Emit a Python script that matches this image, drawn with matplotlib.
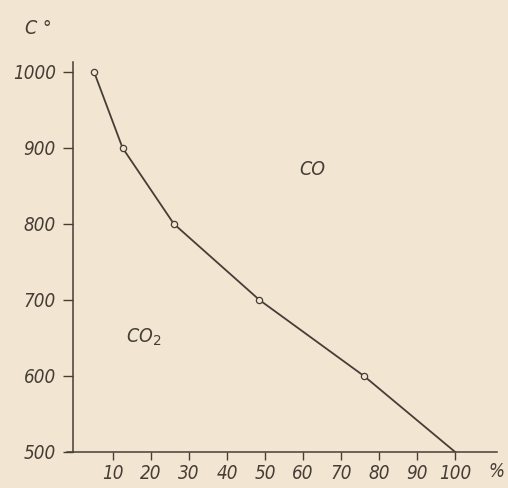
import matplotlib.pyplot as plt

# equilibrium curve
temps = [1000, 900, 800, 700, 600, 500]
percent = [5, 12.5, 26, 48.5, 76, 100]
n_marked = 5  # last point (100 %, 500 C) has no circle

y_ticks = [500, 600, 700, 800, 900, 1000]
x_ticks = [10, 20, 30, 40, 50, 60, 70, 80, 90, 100]

BG = "#f2e6d2"
INK = "#463d36"
FONT = dict(family="DejaVu Sans", style="italic", stretch="condensed", color=INK)


def main():
    fig = plt.figure(figsize=(5.08, 4.88), dpi=100, facecolor=BG)
    ax = fig.add_axes([0.132, 0.074, 0.846, 0.799], facecolor=BG)

    ax.plot(percent, temps, color=INK, linewidth=1.3, zorder=2)
    ax.plot(percent[:n_marked], temps[:n_marked], linestyle="none", marker="o",
            markersize=4.5, markerfacecolor=BG, markeredgecolor=INK,
            markeredgewidth=0.9, zorder=3)

    ax.set_xlim(-2.1, 111)
    ax.set_ylim(500, 1013)

    for s in ("top", "right"):
        ax.spines[s].set_visible(False)
    ax.spines["left"].set_position(("data", -0.5))
    for s in ("left", "bottom"):
        ax.spines[s].set_color(INK)
        ax.spines[s].set_linewidth(1.1)

    ax.set_xticks(x_ticks)
    ax.set_xticklabels([str(v) for v in x_ticks], fontsize=13.5, **FONT)
    ax.set_yticks(y_ticks)
    ax.set_yticklabels([str(v) for v in y_ticks], fontsize=13.5, **FONT)
    ax.tick_params(axis="y", direction="out", length=7.5, width=1.0,
                   color=INK, pad=5)
    ax.tick_params(axis="x", direction="out", length=6, width=1.0,
                   color=INK, pad=3)

    ax.text(1.0, -0.05, "%", transform=ax.transAxes, fontsize=13.5,
            ha="center", va="center", **FONT)
    fig.text(0.075, 0.942, "C °", fontsize=14, ha="center", va="center", **FONT)
    ax.text(62.5, 871, "CO", fontsize=14, ha="center", va="center", **FONT)
    ax.text(18, 651, "CO$_2$", fontsize=14, ha="center", va="center", **FONT)

    fig.savefig("out.png", dpi=100, facecolor=BG)


if __name__ == "__main__":
    main()
